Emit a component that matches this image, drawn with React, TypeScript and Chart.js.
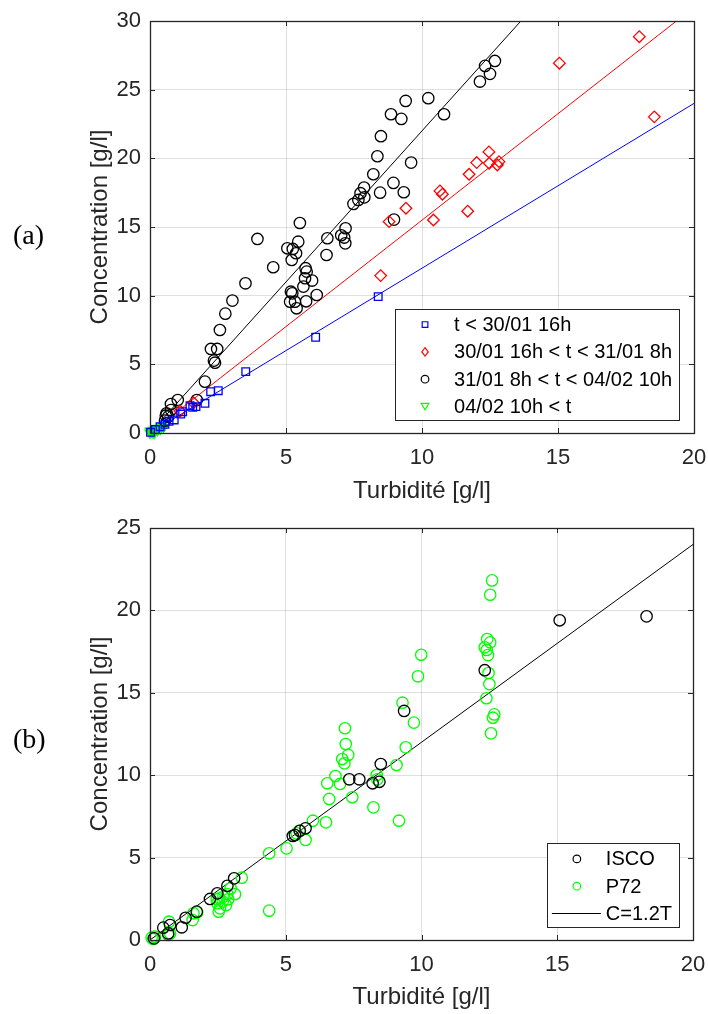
import React, { useEffect, useRef } from 'react';
import { Chart, registerables } from 'chart.js';

Chart.register(...registerables);

const FONT = '"Liberation Sans", Arial, Helvetica, sans-serif';
const AXIS_COLOR = '#262626';
const GRID_COLOR = 'rgba(38,38,38,0.15)';

// ---------- shared axis labels ----------
const xTitle = 'Turbidité [g/l]';
const yTitle = 'Concentration [g/l]';
const xMax = 20;
const xStep = 5;

// ---------- chart (a) ----------
const labelA = '(a)';
const yMaxA = 30;
const seriesLabelsA = ['t < 30/01 16h', '30/01 16h < t < 31/01 8h', '31/01 8h < t < 04/02 10h', '04/02 10h < t'];
const slopesA = [1.2, 1.55, 2.2];

const blueA: [number, number][] = [
  [0.02, 0.05], [0.2, 0.25], [0.37, 0.46], [0.55, 0.63], [0.7, 0.85], [0.89, 0.95], [1.13, 1.38], [1.2, 1.55],
  [1.47, 1.99], [1.57, 1.87], [1.69, 1.92], [2.02, 2.16], [2.23, 3.01], [2.51, 3.08], [3.52, 4.47],
  [6.09, 6.97], [8.39, 9.93],
];
const redA: [number, number][] = [
  [1.1, 1.6], [1.6, 2.2], [8.48, 11.46], [8.79, 15.39], [9.41, 16.37], [10.42, 15.51], [10.66, 17.63],
  [10.75, 17.39], [11.68, 16.15], [11.73, 18.84], [12.01, 19.69], [12.46, 20.47], [12.47, 19.64],
  [12.77, 19.52], [12.83, 19.76], [15.05, 26.93], [17.99, 28.86], [18.54, 23.02],
];
const blackA: [number, number][] = [
  [0.55, 0.9], [0.58, 1.26], [0.61, 1.43], [0.67, 1.19], [0.77, 1.67], [0.77, 2.11], [1.02, 2.4], [1.72, 2.4],
  [2.02, 3.74], [2.35, 5.27], [2.39, 5.12], [2.24, 6.12], [2.47, 6.12], [2.57, 7.5], [2.77, 8.69],
  [3.03, 9.64], [3.51, 10.9], [3.95, 14.13], [4.53, 12.07], [5.05, 13.45], [5.25, 13.4], [5.37, 13.09],
  [5.21, 12.6], [5.45, 13.93], [5.51, 15.29], [5.72, 12.0], [5.76, 11.75], [5.7, 11.27], [5.96, 11.1],
  [5.64, 10.66], [6.13, 10.05], [5.18, 10.29], [5.23, 10.17], [5.33, 9.56], [5.39, 9.08], [5.15, 9.56],
  [5.74, 9.59], [6.49, 12.96], [6.52, 14.18], [7.03, 14.4], [7.14, 14.23], [7.18, 13.81], [7.19, 14.91],
  [7.48, 16.68], [7.66, 16.97], [7.74, 17.46], [7.88, 17.16], [7.87, 17.87], [8.21, 18.84], [8.36, 20.15],
  [8.46, 17.5], [8.49, 21.61], [8.86, 23.21], [8.95, 18.21], [8.97, 15.54], [9.24, 22.87], [9.33, 17.53],
  [9.4, 24.18], [9.6, 19.69], [10.23, 24.38], [10.81, 23.21], [12.13, 25.59], [12.32, 26.73],
  [12.5, 26.15], [12.68, 27.09],
];
const greenA: [number, number][] = [
  [0.0, 0.0], [0.05, 0.1], [0.1, 0.05], [0.12, 0.2], [0.18, 0.12], [0.22, 0.28], [0.28, 0.2], [0.3, 0.35],
  [0.38, 0.3], [0.42, 0.45], [0.5, 0.45], [0.55, 0.6], [0.15, 0.0], [0.0, 0.15],
];

// ---------- chart (b) ----------
const labelB = '(b)';
const yMaxB = 25;
const seriesLabelsB = ['ISCO', 'P72', 'C=1.2T'];
const slopeB = 1.2;

const iscoB: [number, number][] = [
  [0.15, 0.1], [0.49, 0.75], [0.67, 0.4], [0.74, 0.91], [1.17, 0.77], [1.31, 1.35], [1.72, 1.72],
  [2.21, 2.49], [2.48, 2.83], [2.85, 3.29], [3.1, 3.74], [5.26, 6.31], [5.34, 6.37], [5.52, 6.63],
  [5.73, 6.78], [7.34, 9.75], [7.71, 9.75], [8.2, 9.51], [8.45, 9.6], [8.5, 10.68], [9.36, 13.9],
  [12.33, 16.37], [15.09, 19.4], [18.29, 19.64],
];
const p72B: [number, number][] = [
  [0.06, 0.14], [0.12, 0.06], [0.18, 0.2], [0.67, 0.3], [0.74, 0.4], [0.7, 1.11], [1.57, 1.21], [1.6, 1.62],
  [1.74, 1.68], [2.53, 1.72], [2.58, 1.92], [2.8, 2.12], [2.48, 2.23], [2.68, 2.33], [2.46, 2.47],
  [2.88, 2.47], [2.55, 2.53], [2.7, 2.63], [2.85, 2.79], [3.13, 2.78], [2.97, 3.14], [3.38, 3.78],
  [4.39, 1.78], [4.39, 5.26], [5.03, 5.56], [5.4, 6.47], [5.5, 6.63], [5.73, 6.07], [6.0, 7.24],
  [6.48, 7.14], [6.53, 9.51], [6.6, 8.56], [6.83, 9.95], [7.0, 9.47], [7.45, 8.66], [7.08, 10.98],
  [7.16, 10.72], [7.3, 11.23], [7.21, 11.89], [7.18, 12.85], [8.23, 8.05], [8.35, 10.01], [8.37, 9.75],
  [9.08, 10.62], [9.17, 7.24], [9.42, 11.69], [9.72, 13.19], [9.3, 14.4], [9.87, 16.0], [9.99, 17.31],
  [12.39, 14.67], [12.47, 16.2], [12.5, 15.53], [12.56, 12.54], [12.63, 13.49], [12.68, 13.69],
  [12.33, 17.76], [12.4, 17.6], [12.45, 17.29], [12.42, 18.26], [12.53, 18.06], [12.53, 20.95],
  [12.6, 21.82],
];

// ---------- helpers ----------
const toXY = (pts: [number, number][]) => pts.map(([x, y]) => ({ x, y }));
const fitLine = (slope: number) => [{ x: 0, y: 0 }, { x: xMax, y: slope * xMax }];

type LegendEntry = { label: string; kind: 'square' | 'diamond' | 'circle' | 'triangleDown' | 'line'; color: string };

function drawMarker(ctx: CanvasRenderingContext2D, kind: string, x: number, y: number, r: number) {
  ctx.beginPath();
  if (kind === 'square') {
    ctx.rect(x - r * 0.75, y - r * 0.75, r * 1.5, r * 1.5);
  } else if (kind === 'diamond') {
    ctx.moveTo(x, y - r * 1.1);
    ctx.lineTo(x + r * 0.85, y);
    ctx.lineTo(x, y + r * 1.1);
    ctx.lineTo(x - r * 0.85, y);
    ctx.closePath();
  } else if (kind === 'circle') {
    ctx.arc(x, y, r, 0, Math.PI * 2);
  } else if (kind === 'triangleDown') {
    ctx.moveTo(x - r, y - r * 0.8);
    ctx.lineTo(x + r, y - r * 0.8);
    ctx.lineTo(x, y + r * 0.9);
    ctx.closePath();
  }
  ctx.stroke();
}

const frameLegendPlugin = {
  id: 'frameLegend',
  afterDraw(chart: any, _args: any, opts: any) {
    const { ctx, chartArea: a, scales } = chart;
    ctx.save();
    // ticks inside the box
    ctx.strokeStyle = AXIS_COLOR;
    ctx.lineWidth = 1;
    const tl = 5;
    ctx.beginPath();
    scales.x.ticks.forEach((t: any) => {
      const px = Math.round(scales.x.getPixelForValue(t.value)) + 0.5;
      ctx.moveTo(px, a.bottom);
      ctx.lineTo(px, a.bottom - tl);
      ctx.moveTo(px, a.top);
      ctx.lineTo(px, a.top + tl);
    });
    scales.y.ticks.forEach((t: any) => {
      const py = Math.round(scales.y.getPixelForValue(t.value)) + 0.5;
      ctx.moveTo(a.left, py);
      ctx.lineTo(a.left + tl, py);
      ctx.moveTo(a.right, py);
      ctx.lineTo(a.right - tl, py);
    });
    ctx.stroke();
    ctx.lineWidth = 1.3;
    ctx.strokeRect(Math.round(a.left) + 0.5, Math.round(a.top) + 0.5, Math.round(a.width), Math.round(a.height));

    // legend
    const items: LegendEntry[] = opts.items || [];
    if (items.length) {
      ctx.font = `20px ${FONT}`;
      const textW = Math.max(...items.map((i) => ctx.measureText(i.label).width));
      const w = 59 + textW + 7;
      const rowH = 27.3;
      const h = 16 + (items.length - 1) * rowH + 13.5;
      const right = a.right - opts.right;
      const bottom = a.bottom - opts.bottom;
      const left = right - w;
      const top = bottom - h;
      ctx.fillStyle = '#ffffff';
      ctx.fillRect(left, top, w, h);
      ctx.strokeStyle = AXIS_COLOR;
      ctx.lineWidth = 1;
      ctx.strokeRect(Math.round(left) + 0.5, Math.round(top) + 0.5, Math.round(w), Math.round(h));
      items.forEach((it, i) => {
        const cy = top + 16 + i * rowH;
        ctx.strokeStyle = it.color;
        ctx.lineWidth = 1.2;
        if (it.kind === 'line') {
          ctx.beginPath();
          ctx.moveTo(left + 5, cy);
          ctx.lineTo(left + 54, cy);
          ctx.stroke();
        } else {
          drawMarker(ctx, it.kind, left + 30, cy, 3.8);
        }
        ctx.fillStyle = '#000000';
        ctx.textBaseline = 'middle';
        ctx.textAlign = 'left';
        ctx.font = `20px ${FONT}`;
        ctx.fillText(it.label, left + 59, cy + 1);
      });
    }
    ctx.restore();
  },
};

function makeOptions(yMax: number, canvasH: number, chartBottom: number, topPad: number, rightPad: number, legend: any) {
  return {
    responsive: false,
    animation: false as const,
    devicePixelRatio: 1,
    layout: { padding: { left: 82, right: rightPad, top: topPad, bottom: 0 } },
    plugins: {
      legend: { display: false },
      tooltip: { enabled: false },
      frameLegend: legend,
    },
    scales: {
      x: {
        type: 'linear' as const,
        min: 0,
        max: xMax,
        afterFit: (s: any) => {
          s.height = canvasH - chartBottom;
          s.paddingLeft = 0;
          s.paddingRight = 0;
        },
        ticks: { stepSize: xStep, padding: 12, color: AXIS_COLOR, font: { family: FONT, size: 22 } },
        grid: { color: GRID_COLOR, drawTicks: false, lineWidth: 1 },
        border: { display: false },
        title: {
          display: true,
          text: xTitle,
          color: AXIS_COLOR,
          font: { family: FONT, size: 24 },
          padding: { top: 0, bottom: 2 },
        },
      },
      y: {
        type: 'linear' as const,
        min: 0,
        max: yMax,
        afterFit: (s: any) => {
          s.width = 68;
          s.paddingTop = 0;
          s.paddingBottom = 0;
        },
        ticks: { stepSize: 5, padding: 9, color: AXIS_COLOR, font: { family: FONT, size: 22 } },
        grid: { color: GRID_COLOR, drawTicks: false, lineWidth: 1 },
        border: { display: false },
        title: {
          display: true,
          text: yTitle,
          color: AXIS_COLOR,
          font: { family: FONT, size: 24 },
          padding: { top: 4, bottom: 0 },
        },
      },
    },
  };
}

const pointSet = (label: string, pts: [number, number][], color: string, style: string, r: number, extra: any = {}) => ({
  label,
  data: toXY(pts),
  borderColor: color,
  backgroundColor: 'rgba(0,0,0,0)',
  pointStyle: style,
  pointRadius: r,
  pointBorderWidth: 1.3,
  pointBackgroundColor: 'rgba(0,0,0,0)',
  pointBorderColor: color,
  showLine: false,
  clip: false,
  ...extra,
});

const lineSet = (label: string, slope: number, color: string) => ({
  label,
  data: fitLine(slope),
  borderColor: color,
  borderWidth: 1,
  pointRadius: 0,
  showLine: true,
  fill: false,
});

function ChartA() {
  const ref = useRef<HTMLCanvasElement>(null);
  useEffect(() => {
    if (!ref.current) return;
    const H = 508;
    const chart = new Chart(ref.current, {
      type: 'scatter',
      data: {
        datasets: [
          pointSet(seriesLabelsA[0], blueA, '#0000ff', 'rect', 5.4),
          pointSet(seriesLabelsA[1], redA, '#ff0000', 'rectRot', 5.8),
          pointSet(seriesLabelsA[2], blackA, '#000000', 'circle', 5.7),
          pointSet(seriesLabelsA[3], greenA, '#00ff00', 'triangle', 5.5, { rotation: 180 }),
          lineSet('fit1', slopesA[0], '#0000ff'),
          lineSet('fit2', slopesA[1], '#ff0000'),
          lineSet('fit3', slopesA[2], '#000000'),
        ] as any,
      },
      options: makeOptions(yMaxA, H, 433, 21, 14, {
        right: 15,
        bottom: 13,
        items: [
          { label: seriesLabelsA[0], kind: 'square', color: '#0000ff' },
          { label: seriesLabelsA[1], kind: 'diamond', color: '#ff0000' },
          { label: seriesLabelsA[2], kind: 'circle', color: '#000000' },
          { label: seriesLabelsA[3], kind: 'triangleDown', color: '#00ff00' },
        ],
      }) as any,
      plugins: [frameLegendPlugin],
    });
    return () => chart.destroy();
  }, []);
  return <canvas ref={ref} width={708} height={508} style={{ position: 'absolute', left: 0, top: 0, display: 'block' }} />;
}

function ChartB() {
  const ref = useRef<HTMLCanvasElement>(null);
  useEffect(() => {
    if (!ref.current) return;
    const H = 506;
    const chart = new Chart(ref.current, {
      type: 'scatter',
      data: {
        datasets: [
          pointSet(seriesLabelsB[0], iscoB, '#000000', 'circle', 5.7),
          pointSet(seriesLabelsB[1], p72B, '#00ff00', 'circle', 5.7),
          lineSet(seriesLabelsB[2], slopeB, '#000000'),
        ] as any,
      },
      options: makeOptions(yMaxB, H, 432, 20, 15, {
        right: 14,
        bottom: 13,
        items: [
          { label: seriesLabelsB[0], kind: 'circle', color: '#000000' },
          { label: seriesLabelsB[1], kind: 'circle', color: '#00ff00' },
          { label: seriesLabelsB[2], kind: 'line', color: '#000000' },
        ],
      }) as any,
      plugins: [frameLegendPlugin],
    });
    return () => chart.destroy();
  }, []);
  return <canvas ref={ref} width={708} height={506} style={{ position: 'absolute', left: 0, top: 508, display: 'block' }} />;
}

const panelLabelStyle: React.CSSProperties = {
  position: 'absolute',
  left: 13,
  fontFamily: '"Liberation Serif", "DejaVu Serif", serif',
  fontSize: 28,
  lineHeight: '28px',
  color: '#000',
};

export default function App() {
  return (
    <div style={{ position: 'absolute', left: 0, top: 0, width: 708, height: 1014, background: '#fff', overflow: 'hidden' }}>
      <ChartA />
      <ChartB />
      <div style={{ ...panelLabelStyle, top: 221 }}>{labelA}</div>
      <div style={{ ...panelLabelStyle, top: 725 }}>{labelB}</div>
    </div>
  );
}
